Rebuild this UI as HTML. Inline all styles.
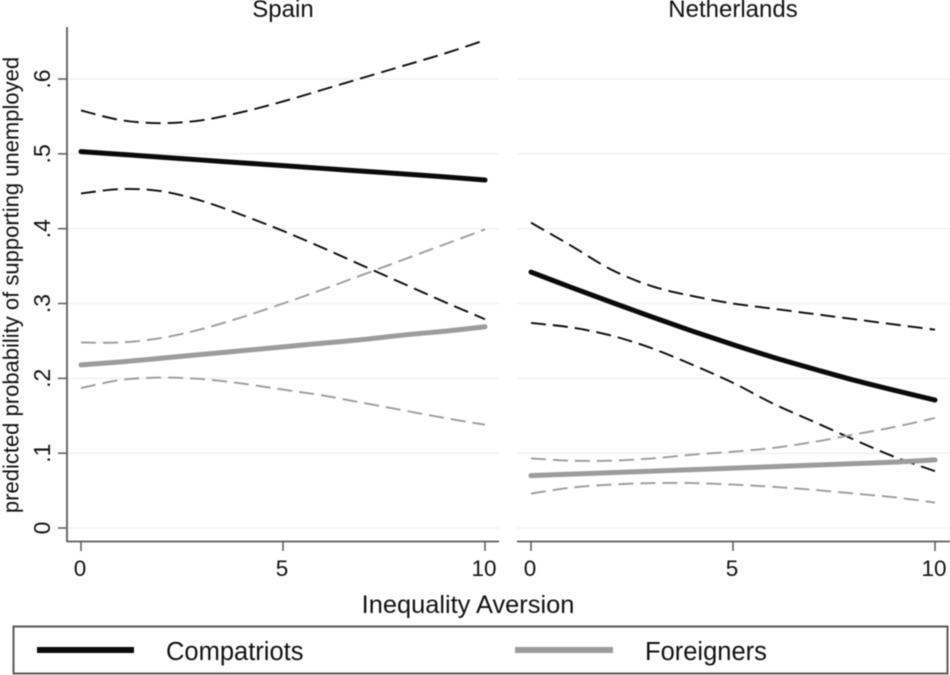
<!DOCTYPE html>
<html lang="en">
<head>
<meta charset="utf-8">
<title>Predicted probability of supporting unemployed</title>
<style>
html,body{margin:0;padding:0;background:#fff;width:950px;height:675px;overflow:hidden}
svg{display:block;font-family:"Liberation Sans",Arial,sans-serif;fill:#111}
</style>
</head>
<body>
<svg id="chart" width="950" height="675" viewBox="0 0 950 675" xmlns="http://www.w3.org/2000/svg">
<g id="plot" style="filter:blur(0.45px)"></g>
</svg>
<script>
const xValues = [0,1,2,3,4,5,6,7,8,9,10];
const xTicks = [0,5,10];
const yTicks = [0,0.1,0.2,0.3,0.4,0.5,0.6];
const yTickLabels = ['0','.1','.2','.3','.4','.5','.6'];
const panelNames = ['Spain','Netherlands'];

const spainCompatriotsMean = [.503,.4993,.4955,.4917,.488,.4842,.4805,.4768,.4731,.4693,.465];
const spainCompatriotsUpper = [.558,.545,.541,.545,.556,.570,.586,.602,.618,.634,.652];
const spainCompatriotsLower = [.447,.453,.450,.437,.418,.397,.374,.350,.326,.302,.279];
const spainForeignersMean = [.218,.222,.227,.232,.237,.242,.247,.252,.258,.263,.269];
const spainForeignersUpper = [.248,.248,.254,.266,.282,.300,.319,.339,.359,.379,.399];
const spainForeignersLower = [.187,.198,.201,.199,.193,.185,.177,.167,.157,.147,.138];

const nlCompatriotsMean = [.342,.3215,.3015,.282,.263,.245,.228,.2125,.1975,.184,.171];
const nlCompatriotsUpper = [.408,.377,.345,.323,.310,.300,.293,.286,.279,.272,.265];
const nlCompatriotsLower = [.274,.268,.257,.240,.218,.194,.166,.142,.118,.095,.076];
const nlForeignersMean = [.070,.072,.074,.076,.078,.080,.082,.084,.086,.088,.091];
const nlForeignersUpper = [.093,.090,.090,.093,.098,.102,.107,.115,.125,.135,.147];
const nlForeignersLower = [.046,.054,.058,.060,.060,.058,.055,.051,.046,.041,.034];

const BLACK = '#0a0a0a', GREY = '#9c9c9c', AXIS = '#5a5a5a', GRID = '#eef3f2';
const NS = 'http://www.w3.org/2000/svg';
const plot = document.getElementById('plot');

function make(tag, attrs, parent, text) {
  const el = document.createElementNS(NS, tag);
  for (const k in attrs) el.setAttribute(k, attrs[k]);
  if (text !== undefined) el.textContent = text;
  (parent || plot).appendChild(el);
  return el;
}
const yScale = v => 528 - 748.3 * v;
const xScaleFor = left => v => left + 40.4 * v;

function smoothPath(pts) {
  let d = 'M' + pts[0][0].toFixed(2) + ' ' + pts[0][1].toFixed(2);
  for (let i = 0; i < pts.length - 1; i++) {
    const p0 = pts[Math.max(i - 1, 0)], p1 = pts[i], p2 = pts[i + 1], p3 = pts[Math.min(i + 2, pts.length - 1)];
    const c1x = p1[0] + (p2[0] - p0[0]) / 6, c1y = p1[1] + (p2[1] - p0[1]) / 6;
    const c2x = p2[0] - (p3[0] - p1[0]) / 6, c2y = p2[1] - (p3[1] - p1[1]) / 6;
    d += 'C' + c1x.toFixed(2) + ' ' + c1y.toFixed(2) + ' ' + c2x.toFixed(2) + ' ' + c2y.toFixed(2) + ' ' + p2[0].toFixed(2) + ' ' + p2[1].toFixed(2);
  }
  return d;
}

function drawSeries(values, xs, color, dashed, name) {
  const pts = values.map((v, i) => [xs(xValues[i]), yScale(v)]);
  const el = make('path', {
    d: smoothPath(pts), fill: 'none', stroke: color,
    'stroke-width': dashed ? 1.9 : 5,
    'stroke-linecap': dashed ? 'butt' : 'round',
    'stroke-dasharray': dashed ? '15 7' : 'none'
  });
  
  
}

function drawPanel(index, left, gridStart, gridEnd, m, u, l, fm, fu, fl) {
  const xs = xScaleFor(left);
  const key = panelNames[index].toLowerCase();
  yTicks.forEach((t, i) => {
    const g = make('line', {x1: gridStart, x2: gridEnd, y1: yScale(t), y2: yScale(t), stroke: GRID, 'stroke-width': 1.6});
    
    
  });
  const ax = make('line', {x1: gridStart, x2: gridEnd, y1: 541.5, y2: 541.5, stroke: AXIS, 'stroke-width': 1.8});
  
  
  xTicks.forEach(t => {
    const tk = make('line', {x1: xs(t), x2: xs(t), y1: 541.5, y2: 551, stroke: AXIS, 'stroke-width': 1.5});
    
    
    const lb = make('text', {x: xs(t) - 1, y: 576, 'text-anchor': 'middle', 'font-size': 22.5}, plot, String(t));
    
    
  });
  const title = make('text', {x: left + 202, y: 17, 'text-anchor': 'middle', 'font-size': 24}, plot, panelNames[index]);
  
  

  drawSeries(u, xs, BLACK, true, key + '-compatriots-upper-ci');
  drawSeries(l, xs, BLACK, true, key + '-compatriots-lower-ci');
  drawSeries(fu, xs, GREY, true, key + '-foreigners-upper-ci');
  drawSeries(fl, xs, GREY, true, key + '-foreigners-lower-ci');
  drawSeries(fm, xs, GREY, false, key + '-foreigners-line');
  drawSeries(m, xs, BLACK, false, key + '-compatriots-line');
}

drawPanel(0, 81, 67, 499, spainCompatriotsMean, spainCompatriotsUpper, spainCompatriotsLower, spainForeignersMean, spainForeignersUpper, spainForeignersLower);
drawPanel(1, 531, 517, 950, nlCompatriotsMean, nlCompatriotsUpper, nlCompatriotsLower, nlForeignersMean, nlForeignersUpper, nlForeignersLower);

const yAxis = make('line', {x1: 67, x2: 67, y1: 27, y2: 542, stroke: AXIS, 'stroke-width': 1.8});


yTicks.forEach((t, i) => {
  const tk = make('line', {x1: 58, x2: 67, y1: yScale(t), y2: yScale(t), stroke: AXIS, 'stroke-width': 1.5});
  
  
  const lb = make('text', {x: 50, y: yScale(t), 'text-anchor': 'middle', 'font-size': 23, transform: 'rotate(-90 50 ' + yScale(t) + ')'}, plot, yTickLabels[i]);
  
  
});

const yTitle = make('text', {x: 18.5, y: 285, 'text-anchor': 'middle', 'font-size': 22, transform: 'rotate(-90 18.5 285)'}, plot, 'predicted probability of supporting unemployed');


const xTitle = make('text', {x: 468, y: 613, 'text-anchor': 'middle', 'font-size': 25.4}, plot, 'Inequality Aversion');



const legendBox = make('rect', {x: 13.5, y: 626.5, width: 934, height: 47, fill: '#fff', stroke: AXIS, 'stroke-width': 2});


const legendLine1 = make('line', {x1: 37, x2: 134, y1: 650, y2: 650, stroke: BLACK, 'stroke-width': 6});


const legendText1 = make('text', {x: 166, y: 660, 'font-size': 25.5}, plot, 'Compatriots');


const legendLine2 = make('line', {x1: 515, x2: 613, y1: 650, y2: 650, stroke: GREY, 'stroke-width': 6});


const legendText2 = make('text', {x: 645, y: 660, 'font-size': 25.5}, plot, 'Foreigners');


</script>
</body>
</html>
